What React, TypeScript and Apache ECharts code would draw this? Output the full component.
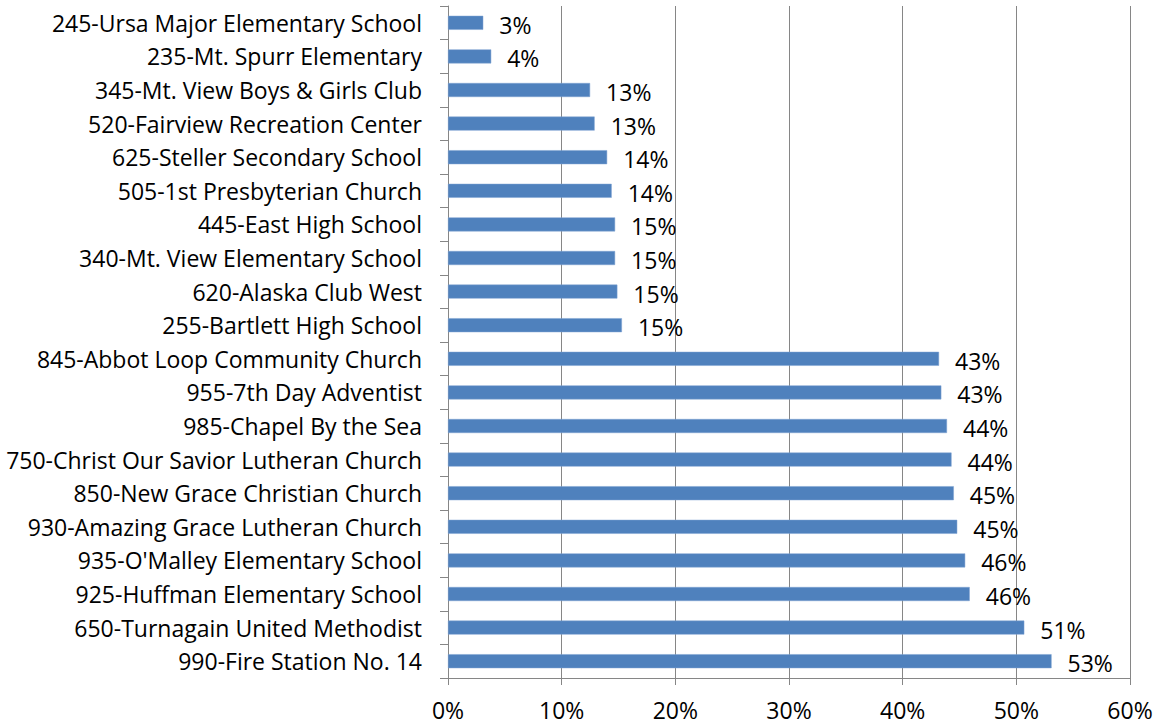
import React, { useEffect, useRef } from "react";
import * as echarts from "echarts";

const categories: string[] = [
  "245-Ursa Major Elementary School",
  "235-Mt. Spurr Elementary",
  "345-Mt. View Boys & Girls Club",
  "520-Fairview Recreation Center",
  "625-Steller Secondary School",
  "505-1st Presbyterian Church",
  "445-East High School",
  "340-Mt. View Elementary School",
  "620-Alaska Club West",
  "255-Bartlett High School",
  "845-Abbot Loop Community Church",
  "955-7th Day Adventist",
  "985-Chapel By the Sea",
  "750-Christ Our Savior Lutheran Church",
  "850-New Grace Christian Church",
  "930-Amazing Grace Lutheran Church",
  "935-O'Malley Elementary School",
  "925-Huffman Elementary School",
  "650-Turnagain United Methodist",
  "990-Fire Station No. 14",
];

const values: number[] = [
  3.1, 3.8, 12.5, 12.9, 14.0, 14.4, 14.7, 14.7, 14.9, 15.3,
  43.2, 43.4, 43.9, 44.3, 44.5, 44.8, 45.5, 45.9, 50.7, 53.1,
];

const xTicks: number[] = [0, 10, 20, 30, 40, 50, 60];

const FONT = "'Open Sans', sans-serif";
const GRAY = "#868686";

export default function App() {
  const ref = useRef<HTMLDivElement>(null);
  useEffect(() => {
    if (!ref.current) return;
    const chart = echarts.init(ref.current, undefined, { renderer: "svg" });
    chart.setOption({
      animation: false,
      grid: { left: 448, right: 29, top: 6, bottom: 48, containLabel: false },
      xAxis: {
        type: "value",
        min: xTicks[0],
        max: xTicks[xTicks.length - 1],
        interval: 10,
        axisLine: { show: true, lineStyle: { color: GRAY, width: 1 } },
        axisTick: { show: true, length: 7, lineStyle: { color: GRAY } },
        splitLine: { show: true, lineStyle: { color: GRAY, width: 1 } },
        axisLabel: {
          formatter: (v: number) => v + "%",
          fontFamily: FONT,
          fontSize: 23,
          color: "#000",
          margin: 20,
        },
      },
      yAxis: {
        type: "category",
        data: categories,
        inverse: true,
        axisLine: { show: true, lineStyle: { color: GRAY, width: 1 } },
        axisTick: { show: true, length: 8, lineStyle: { color: GRAY } },
        axisLabel: {
          fontFamily: FONT,
          fontSize: 23,
          color: "#000",
          margin: 26,
        },
        splitLine: { show: false },
      },
      series: [
        {
          type: "bar",
          data: values,
          barWidth: 14,
          itemStyle: { color: "#4F81BD", borderColor: "#7FA3D3", borderWidth: 0.5 },
          label: {
            show: true,
            position: "right",
            distance: 16,
            offset: [0, 2],
            formatter: (p: any) => Math.round(p.value) + "%",
            fontFamily: FONT,
            fontSize: 23,
            color: "#000",
          },
        },
      ],
    });
    return () => chart.dispose();
  }, []);
  return <div ref={ref} style={{ width: 1159, height: 726, position: "absolute", left: 0, top: 0 }} />;
}
